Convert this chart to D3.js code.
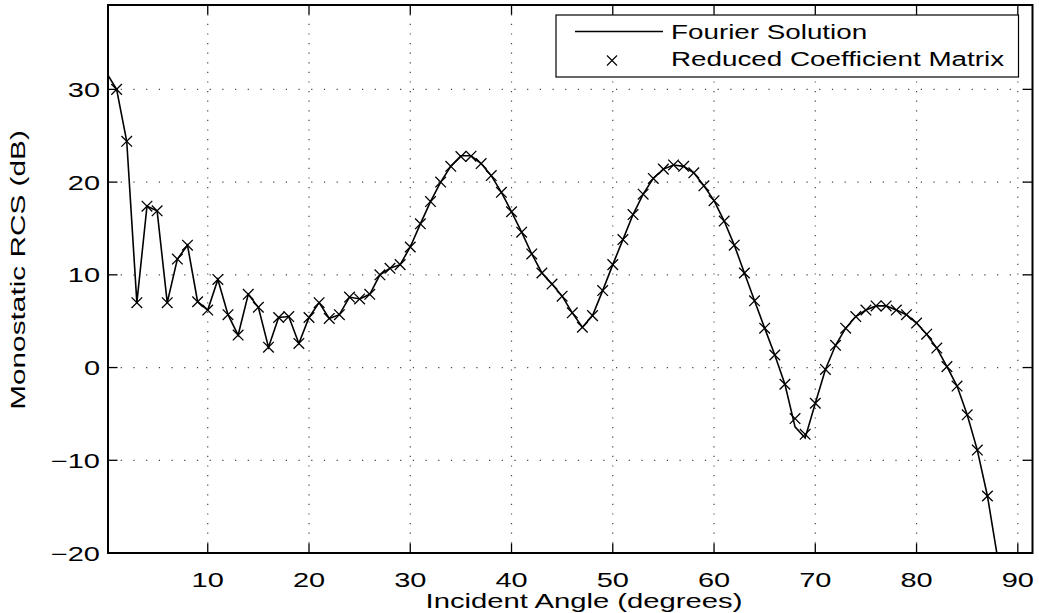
<!DOCTYPE html>
<html lang="en">
<head>
<meta charset="utf-8">
<title>Monostatic RCS</title>
<script src="https://cdn.jsdelivr.net/npm/d3@7/dist/d3.min.js"></script>
<style>
  body { margin: 0; background: #fff; }
  text { font-family: "Liberation Sans", Arial, sans-serif; fill: #000; }
</style>
</head>
<body>
<script type="text/javascript">

var width = 1039;
var height = 613;

// Fourier solution (solid line), degrees and dB
var fourierAngles = [0, 1, 2, 3, 4, 5, 6, 7, 8, 9, 10, 11, 12, 13, 14, 15, 16, 17, 18, 19, 20,
    21, 22, 23, 24, 25, 26, 27, 28, 29, 30, 31, 32, 33, 34, 35, 36, 37, 38, 39, 40,
    41, 42, 43, 44, 45, 46, 47, 48, 49, 50, 51, 52, 53, 54, 55, 56, 57, 58, 59, 60,
    61, 62, 63, 64, 65, 66, 67, 68, 69, 70, 71, 72, 73, 74, 75, 76, 77, 78, 79, 80,
    81, 82, 83, 84, 85, 86, 87, 88];
var fourierValues = [31.8, 30.0, 24.4, 7.0, 17.4, 16.9, 7.0, 11.7, 13.2, 7.1, 6.2,
    9.5, 5.7, 3.5, 7.9, 6.5, 2.2, 5.4, 5.5, 2.6, 5.4,
    7.0, 5.3, 5.7, 7.6, 7.4, 7.9, 10.0, 10.7, 11.1, 13.0,
    15.5, 17.9, 20.0, 21.7, 22.85, 22.85, 22.0, 20.7, 18.9, 16.8,
    14.6, 12.25, 10.2, 9.0, 7.7, 5.9, 4.35, 5.6, 8.3, 11.1,
    13.8, 16.5, 18.7, 20.4, 21.4, 21.85, 21.7, 21.0, 19.6, 18.0,
    15.8, 13.2, 10.2, 7.2, 4.25, 1.35, -1.8, -6.4, -7.6, -3.85,
    -0.2, 2.4, 4.25, 5.5, 6.2, 6.65, 6.65, 6.2, 5.7, 4.8,
    3.6, 2.1, 0.1, -2.0, -5.1, -8.9, -13.85, -20.5];

// Reduced coefficient matrix (x markers)
var rcmAngles = [1, 2, 3, 4, 5, 6, 7, 8, 9, 10, 11, 12, 13, 14, 15, 16, 17, 18, 19, 20,
    21, 22, 23, 24, 25, 26, 27, 28, 29, 30, 31, 32, 33, 34, 35, 36, 37, 38, 39, 40,
    41, 42, 43, 44, 45, 46, 47, 48, 49, 50, 51, 52, 53, 54, 55, 56, 57, 58, 59, 60,
    61, 62, 63, 64, 65, 66, 67, 68, 69, 70, 71, 72, 73, 74, 75, 76, 77, 78, 79, 80,
    81, 82, 83, 84, 85, 86, 87];
var rcmValues = [30.0, 24.4, 7.0, 17.4, 16.9, 7.0, 11.7, 13.2, 7.1, 6.2,
    9.5, 5.7, 3.5, 7.9, 6.5, 2.2, 5.4, 5.5, 2.6, 5.4,
    7.0, 5.3, 5.7, 7.6, 7.4, 7.9, 10.0, 10.7, 11.1, 13.0,
    15.5, 17.9, 20.0, 21.7, 22.75, 22.8, 22.0, 20.7, 18.9, 16.8,
    14.6, 12.25, 10.2, 9.0, 7.7, 5.9, 4.35, 5.6, 8.3, 11.1,
    13.8, 16.5, 18.7, 20.4, 21.4, 21.85, 21.7, 21.0, 19.6, 18.0,
    15.8, 13.2, 10.2, 7.2, 4.25, 1.35, -1.8, -5.5, -7.2, -3.85,
    -0.2, 2.4, 4.25, 5.5, 6.2, 6.65, 6.65, 6.2, 5.7, 4.8,
    3.6, 2.1, 0.1, -2.0, -5.1, -8.9, -13.85];

var xTicks = [10, 20, 30, 40, 50, 60, 70, 80, 90];
var yTicks = [-20, -10, 0, 10, 20, 30];
var legendLabels = ["Fourier Solution", "Reduced Coefficient Matrix"];

// plot box (note: "top" is taken by window.top, so prefix everything)
var boxL = 108, boxR = 1032.5, boxT = 5, boxB = 553;
var stretch = 1.45;   // the labels in the original are drawn wide

var x = d3.scaleLinear().domain([0.15, 91.45]).range([boxL, boxR]);
var y = d3.scaleLinear().domain([-20, 39.1]).range([boxB, boxT]);

var svg = d3.select("body").append("svg")
    .attr("width", width)
    .attr("height", height);

svg.append("defs").append("clipPath").attr("id", "plotclip")
    .append("rect")
    .attr("x", boxL).attr("y", boxT)
    .attr("width", boxR - boxL).attr("height", boxB - boxT);

// dotted grid
svg.append("g").selectAll("line")
    .data(xTicks)
    .enter().append("line")
    .attr("x1", function(d) { return x(d); })
    .attr("x2", function(d) { return x(d); })
    .attr("y1", boxB).attr("y2", boxT)
    .attr("stroke", "#444")
    .attr("stroke-width", 1.2)
    .attr("stroke-dasharray", "1.2,8.4");

svg.append("g").selectAll("line")
    .data(yTicks)
    .enter().append("line")
    .attr("x1", boxL).attr("x2", boxR)
    .attr("y1", function(d) { return y(d); })
    .attr("y2", function(d) { return y(d); })
    .attr("stroke", "#444")
    .attr("stroke-width", 1.2)
    .attr("stroke-dasharray", "1.2,11.5");

// Fourier line
var line = d3.line()
    .x(function(d, i) { return x(fourierAngles[i]); })
    .y(function(d) { return y(d); });

svg.append("path")
    .datum(fourierValues)
    .attr("clip-path", "url(#plotclip)")
    .attr("d", line)
    .attr("fill", "none")
    .attr("stroke", "#000")
    .attr("stroke-width", 1.6);

// x markers
svg.append("g").selectAll("path")
    .data(rcmValues)
    .enter().append("path")
    .attr("transform", function(d, i) { return "translate(" + x(rcmAngles[i]) + "," + y(d) + ")"; })
    .attr("d", "M-5.3,-5.3L5.3,5.3M-5.3,5.3L5.3,-5.3")
    .attr("fill", "none")
    .attr("stroke", "#000")
    .attr("stroke-width", 1.3);

// axes box
svg.append("rect")
    .attr("x", boxL).attr("y", boxT)
    .attr("width", boxR - boxL).attr("height", boxB - boxT)
    .attr("fill", "none")
    .attr("stroke", "#000")
    .attr("stroke-width", 2);

// inward ticks, all four sides
var tickLen = 9.5;
var ticks = svg.append("g").attr("stroke", "#000").attr("stroke-width", 1.3);
xTicks.forEach(function(t) {
    ticks.append("line").attr("x1", x(t)).attr("x2", x(t)).attr("y1", boxB).attr("y2", boxB - tickLen);
    ticks.append("line").attr("x1", x(t)).attr("x2", x(t)).attr("y1", boxT).attr("y2", boxT + tickLen);
});
yTicks.forEach(function(t) {
    ticks.append("line").attr("x1", boxL).attr("x2", boxL + tickLen).attr("y1", y(t)).attr("y2", y(t));
    ticks.append("line").attr("x1", boxR).attr("x2", boxR - tickLen).attr("y1", y(t)).attr("y2", y(t));
});

// tick labels
svg.append("g").selectAll("text")
    .data(xTicks)
    .enter().append("text")
    .attr("transform", function(d) { return "translate(" + x(d) + "," + 587 + ") scale(" + stretch + ",1)"; })
    .attr("text-anchor", "middle")
    .attr("font-size", 20)
    .text(function(d) { return d; });

svg.append("g").selectAll("text")
    .data(yTicks)
    .enter().append("text")
    .attr("transform", function(d) { return "translate(" + 100 + "," + (y(d) + 7.5) + ") scale(" + stretch + ",1)"; })
    .attr("text-anchor", "end")
    .attr("font-size", 20)
    .text(function(d) { return d < 0 ? "\u2212" + Math.abs(d) : d; });

// axis labels
svg.append("text")
    .attr("transform", "translate(584,607.5) scale(1.5,1)")
    .attr("text-anchor", "middle")
    .attr("font-size", 19.5)
    .text("Incident Angle (degrees)");

svg.append("text")
    .attr("transform", "translate(25,270) rotate(-90) scale(1.49,1)")
    .attr("text-anchor", "middle")
    .attr("font-size", 20)
    .text("Monostatic RCS (dB)");

// legend
var legend = svg.append("g");
legend.append("rect")
    .attr("x", 556).attr("y", 15)
    .attr("width", 1018.5 - 556).attr("height", 77 - 15)
    .attr("fill", "#fff")
    .attr("stroke", "#000")
    .attr("stroke-width", 1.2);

legend.append("line")
    .attr("x1", 575).attr("x2", 663)
    .attr("y1", 31.5).attr("y2", 31.5)
    .attr("stroke", "#000")
    .attr("stroke-width", 1.3);

legend.append("path")
    .attr("transform", "translate(612,60.5)")
    .attr("d", "M-5,-5L5,5M-5,5L5,-5")
    .attr("stroke", "#000")
    .attr("stroke-width", 1.1);

legend.selectAll("text.lab")
    .data(legendLabels)
    .enter().append("text")
    .attr("class", "lab")
    .attr("transform", function(d, i) { return "translate(671," + (39.3 + i * 26.7) + ") scale(1.39,1)"; })
    .attr("font-size", 20)
    .text(function(d) { return d; });

</script>
</body>
</html>
